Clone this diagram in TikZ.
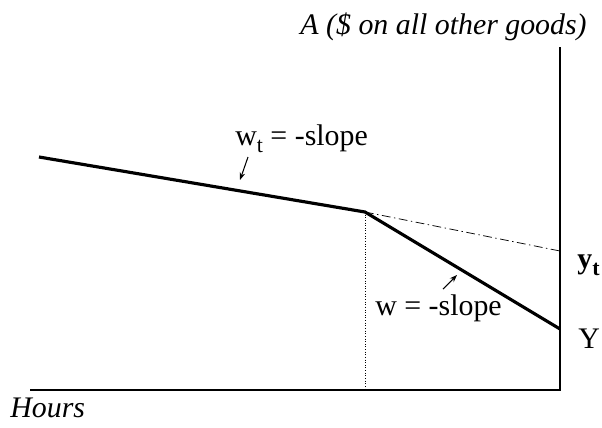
\documentclass[tikz,border=0pt]{standalone}
\usepackage{fontspec}
\setmainfont{Liberation Serif}
\usetikzlibrary{arrows.meta}
\newcommand{\lowsub}[1]{\raisebox{-4pt}{\fontsize{12.5}{12.5}\selectfont #1}}

\begin{document}
\begin{tikzpicture}[
    x=0.02cm, y=-0.02cm,
    font=\fontsize{17}{20}\selectfont,
    >={Stealth[length=1.5mm,width=1.1mm]},
    axis/.style={line width=1.2pt, line cap=rect},
    budget/.style={line width=1.8pt, line join=miter},
    guide/.style={line width=0.4pt, dash pattern=on 0.5pt off 1pt},
    ext/.style={line width=0.4pt, dash pattern=on 5pt off 2pt on 0.8pt off 2pt},
    pointer/.style={->, line width=0.6pt},
    lab/.style={inner sep=0pt, anchor=base west}
  ]
  \useasboundingbox (0,0) rectangle (602,427);
  % axes
  \coordinate (top) at (560,48);
  \coordinate (origin) at (560,390);
  \coordinate (left) at (31,390);
  \draw[axis] (top) -- (origin) -- (left);
  % budget line with kink
  \coordinate (start) at (39,157);
  \coordinate (kink) at (365,212);
  \coordinate (endY) at (560,329);
  \coordinate (endyt) at (560,251);
  \coordinate (foot) at (365,390);
  \draw[budget] (start) -- (kink) -- (endY);
  \draw[ext] (kink) -- (endyt);
  \draw[guide] (kink) -- (foot);
  % labels
  \node[inner sep=0pt, anchor=base east, font=\fontsize{17}{20}\selectfont\itshape] (ylab) at (587,34) {A (\$ on all other goods)};
  \node[lab, font=\fontsize{17}{20}\selectfont\itshape] (xlab) at (10,417) {Hours};
  \node[lab] (wt) at (235,145) {w\lowsub{t} = -slope};
  \node[lab] (w) at (375,315) {w = -slope};
  \node[lab, font=\fontsize{17}{20}\selectfont\bfseries] (yt) at (577,268) {y\lowsub{\bfseries t}};
  \node[lab] (Y) at (578,348) {Y};
  % pointers
  \coordinate (wtfrom) at (248,157);
  \coordinate (wtto) at (240,180);
  \coordinate (wfrom) at (443,289);
  \coordinate (wto) at (457,275);
  \draw[pointer] (wtfrom) -- (wtto);
  \draw[pointer] (wfrom) -- (wto);
\end{tikzpicture}
\end{document}
